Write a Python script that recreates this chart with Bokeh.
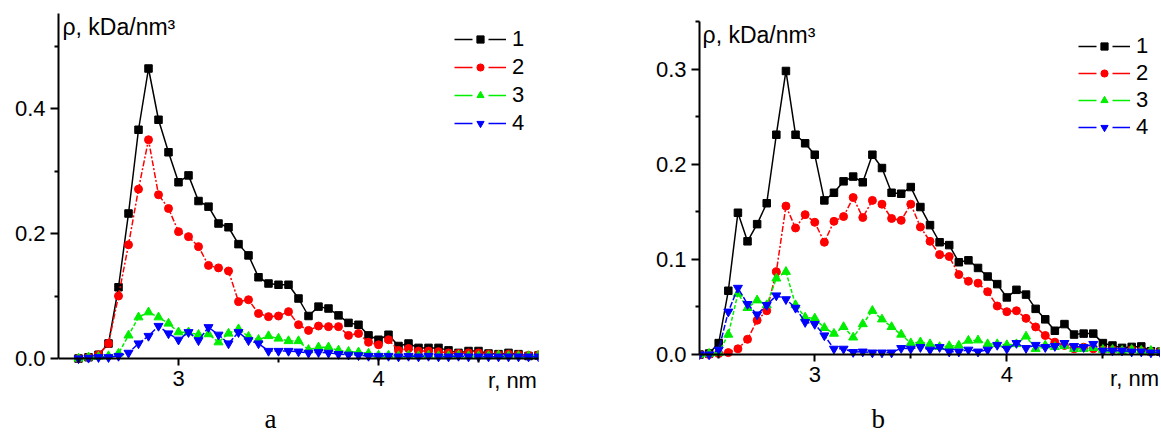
import numpy as np
from bokeh.plotting import figure
from bokeh.models import (ColumnDataSource, Range1d, FixedTicker, NumeralTickFormatter,
                          Label, Legend, LegendItem)
from bokeh.layouts import row
from bokeh.embed import file_html
from bokeh.resources import INLINE

# ---------------- data: panel a ----------------
r_a = [2.5, 2.55, 2.6, 2.65, 2.7, 2.75, 2.8, 2.85, 2.9, 2.95,
       3.0, 3.05, 3.1, 3.15, 3.2, 3.25, 3.3, 3.35, 3.4, 3.45,
       3.5, 3.55, 3.6, 3.65, 3.7, 3.75, 3.8, 3.85, 3.9, 3.95,
       4.0, 4.05, 4.1, 4.15, 4.2, 4.25, 4.3, 4.35, 4.4, 4.45,
       4.5, 4.55, 4.6, 4.65, 4.7, 4.75, 4.8]
a1 = [0.0, 0.002, 0.006, 0.024, 0.114, 0.232, 0.366, 0.464, 0.382, 0.33,
      0.282, 0.293, 0.252, 0.243, 0.216, 0.21, 0.183, 0.165, 0.13, 0.12,
      0.118, 0.118, 0.096, 0.068, 0.083, 0.08, 0.069, 0.057, 0.054, 0.037,
      0.030, 0.038, 0.020, 0.024, 0.017, 0.017, 0.017, 0.013, 0.009, 0.012,
      0.012, 0.008, 0.007, 0.009, 0.007, 0.004, 0.005]
a2 = [0.0, 0.002, 0.006, 0.024, 0.1, 0.182, 0.271, 0.35, 0.262, 0.24,
      0.203, 0.195, 0.179, 0.149, 0.145, 0.14, 0.091, 0.094, 0.072, 0.067,
      0.068, 0.075, 0.054, 0.045, 0.052, 0.051, 0.051, 0.037, 0.04, 0.026,
      0.022, 0.03, 0.013, 0.016, 0.012, 0.012, 0.011, 0.009, 0.008, 0.009,
      0.009, 0.007, 0.006, 0.007, 0.006, 0.005, 0.006]
a3 = [0.0, 0.002, 0.003, 0.004, 0.008, 0.037, 0.066, 0.074, 0.066, 0.056,
      0.042, 0.042, 0.038, 0.039, 0.026, 0.04, 0.047, 0.035, 0.03, 0.036,
      0.032, 0.028, 0.028, 0.014, 0.018, 0.018, 0.013, 0.011, 0.01, 0.008,
      0.005, 0.005, 0.004, 0.005, 0.004, 0.005, 0.004, 0.004, 0.005, 0.004,
      0.004, 0.004, 0.005, 0.004, 0.004, 0.004, 0.005]
a4 = [0.0, 0.001, 0.002, 0.002, 0.004, 0.009, 0.024, 0.036, 0.052, 0.04,
      0.03, 0.042, 0.029, 0.05, 0.038, 0.024, 0.042, 0.029, 0.024, 0.012,
      0.012, 0.012, 0.011, 0.009, 0.01, 0.009, 0.007, 0.006, 0.005, 0.004,
      0.004, 0.004, 0.003, 0.004, 0.003, 0.004, 0.003, 0.003, 0.004, 0.003,
      0.003, 0.003, 0.003, 0.003, 0.003, 0.003, 0.003]

# ---------------- data: panel b ----------------
r_b = [2.4, 2.45, 2.5, 2.55, 2.6, 2.65, 2.7, 2.75, 2.8, 2.85, 2.9, 2.95,
       3.0, 3.05, 3.1, 3.15, 3.2, 3.25, 3.3, 3.35, 3.4, 3.45,
       3.5, 3.55, 3.6, 3.65, 3.7, 3.75, 3.8, 3.85, 3.9, 3.95,
       4.0, 4.05, 4.1, 4.15, 4.2, 4.25, 4.3, 4.35, 4.4, 4.45,
       4.5, 4.55, 4.6, 4.65, 4.7, 4.75, 4.8]
b1 = [0.0, 0.001, 0.012, 0.067, 0.149, 0.119, 0.137, 0.159, 0.231, 0.298, 0.231, 0.222,
      0.210, 0.162, 0.17, 0.182, 0.187, 0.181, 0.21, 0.196, 0.17, 0.169,
      0.176, 0.155, 0.136, 0.118, 0.115, 0.097, 0.099, 0.091, 0.082, 0.074,
      0.06, 0.068, 0.063, 0.048, 0.037, 0.025, 0.032, 0.021, 0.022, 0.022,
      0.012, 0.0095, 0.007, 0.008, 0.0085, 0.0035, 0.003]
b2 = [0.0, 0.0, 0.001, 0.002, 0.006, 0.016, 0.036, 0.046, 0.087, 0.156, 0.133, 0.147,
      0.139, 0.118, 0.14, 0.145, 0.165, 0.144, 0.162, 0.158, 0.143, 0.141,
      0.158, 0.134, 0.119, 0.105, 0.103, 0.084, 0.077, 0.075, 0.066, 0.051,
      0.045, 0.046, 0.038, 0.029, 0.02, 0.013, 0.0095, 0.006, 0.0077, 0.006,
      0.005, 0.005, 0.004, 0.005, 0.004, 0.003, 0.003]
b3 = [0.0, 0.001, 0.002, 0.021, 0.064, 0.049, 0.057, 0.052, 0.08, 0.087, 0.052, 0.039,
      0.038, 0.028, 0.022, 0.029, 0.018, 0.032, 0.046, 0.037, 0.029, 0.021,
      0.012, 0.013, 0.011, 0.008, 0.009, 0.0095, 0.0147, 0.015, 0.011, 0.011,
      0.01, 0.011, 0.019, 0.006, 0.0095, 0.008, 0.009, 0.006, 0.006, 0.007,
      0.005, 0.005, 0.004, 0.005, 0.004, 0.004, 0.003]
b4 = [0.0, 0.0, 0.005, 0.045, 0.07, 0.053, 0.042, 0.052, 0.062, 0.058, 0.049, 0.034,
      0.032, 0.02, 0.006, 0.006, 0.0025, 0.003, 0.002, 0.002, 0.002, 0.0067,
      0.006, 0.0077, 0.005, 0.0077, 0.003, 0.003, 0.005, 0.003, 0.005, 0.010,
      0.006, 0.012, 0.0067, 0.010, 0.0077, 0.0088, 0.012, 0.0088, 0.0077, 0.011,
      0.004, 0.004, 0.004, 0.003, 0.003, 0.002, 0.002]

series_labels = ["1", "2", "3", "4"]
colors = ["#000000", "#ff0000", "#00ee00", "#0000ff"]
markers = ["square", "circle", "triangle", "inverted_triangle"]
msizes = [7.5, 8, 9, 9]
dashes = ["solid", "6 2 2 2", "4 2", "6 2"]

x_ticks = [3, 4]
x_minor = [2.5, 3.5, 4.5]

FONT = "Liberation Sans"
SERIF = "Liberation Serif"


def make_panel(r, series, width, height, borders, y_start, y_end, y_ticks, y_minor,
               legend_loc, spacing, ylab_xy, rnm_xy, letter, letter_xy):
    bl, br, bt, bb = borders
    p = figure(width=width, height=height, x_range=Range1d(2.4, 4.8),
               y_range=Range1d(y_start, y_end), output_backend="svg",
               toolbar_location=None, min_border_left=bl, min_border_right=br,
               min_border_top=bt, min_border_bottom=bb, frame_align=False)
    p.outline_line_color = None
    p.grid.visible = False
    p.background_fill_color = "white"
    p.border_fill_color = "white"

    p.xaxis.fixed_location = 0
    p.yaxis.bounds = (0, y_end)

    for ax in (p.xaxis[0], p.yaxis[0]):
        ax.axis_line_width = 2
        ax.axis_line_color = "black"
        ax.major_tick_line_width = 2
        ax.minor_tick_line_width = 2
        ax.major_tick_in = 0
        ax.minor_tick_in = 0
        ax.major_label_text_font = FONT
        ax.major_label_text_font_size = "22px"
        ax.major_label_text_color = "black"
        ax.major_label_standoff = 5
    p.xaxis.major_tick_out = 7
    p.xaxis.minor_tick_out = 4
    p.yaxis.major_tick_out = 8
    p.yaxis.minor_tick_out = 4
    p.xaxis.ticker = FixedTicker(ticks=x_ticks, minor_ticks=x_minor)
    p.yaxis.ticker = FixedTicker(ticks=y_ticks, minor_ticks=y_minor)
    p.xaxis.formatter = NumeralTickFormatter(format="0")
    p.yaxis.formatter = NumeralTickFormatter(format="0.0")

    for ys, c, m, s, d in zip(series, colors, markers, msizes, dashes):
        src = ColumnDataSource(dict(x=r, y=ys))
        p.line("x", "y", source=src, line_color=c, line_width=1.5, line_dash=d)
        p.scatter("x", "y", source=src, marker=m, size=s, fill_color=c, line_color=c)

    items = []
    for lab, c, m in zip(series_labels, colors, markers):
        lr = p.line(x=np.array([np.nan]), y=np.array([np.nan]), line_color=c,
                    line_width=1.5, line_dash="18 16")
        mr = p.scatter(x=np.array([np.nan]), y=np.array([np.nan]), marker=m,
                       fill_color=c, line_color=c)
        items.append(LegendItem(label=lab, renderers=[lr, mr]))
    leg = Legend(items=items, location=legend_loc, glyph_width=52, glyph_height=18,
                 label_height=25, label_standoff=6, spacing=spacing, padding=0,
                 margin=0, border_line_color=None, background_fill_alpha=0,
                 label_text_font=FONT, label_text_font_size="22px",
                 label_text_color="black")
    p.add_layout(leg)

    p.add_layout(Label(x=ylab_xy[0], y=ylab_xy[1], text="ρ, kDa/nm³",
                       text_font=FONT, text_font_size="23px", text_color="black",
                       text_align="left", text_baseline="middle"))
    p.add_layout(Label(x=rnm_xy[0], y=rnm_xy[1], text="r, nm",
                       text_font=FONT, text_font_size="22px", text_color="black",
                       text_align="center", text_baseline="middle"))
    p.add_layout(Label(x=letter_xy[0], y=letter_xy[1], text=letter,
                       text_font=SERIF, text_font_size="27px", text_color="black",
                       text_align="center", text_baseline="middle"))
    return p


pa = make_panel(r_a, [a1, a2, a3, a4], 650, 435, (58, 112, 13, 0), -0.1232, 0.552,
                [0.0, 0.2, 0.4], [0.1, 0.3, 0.5], (396, 299), 2,
                (2.42, 0.531), (4.67, -0.035), "a", (3.46, -0.0968))
pb = make_panel(r_b, [b1, b2, b3, b4], 510, 435, (49, 0, 21, 0), -0.0851, 0.35,
                [0.0, 0.1, 0.2, 0.3], [0.05, 0.15, 0.25, 0.35], (379, 295), 1,
                (2.416, 0.336), (4.665, -0.025), "b", (3.33, -0.0678))

layout = row(pa, pb)
open("out.html", "w").write(file_html(layout, INLINE))
